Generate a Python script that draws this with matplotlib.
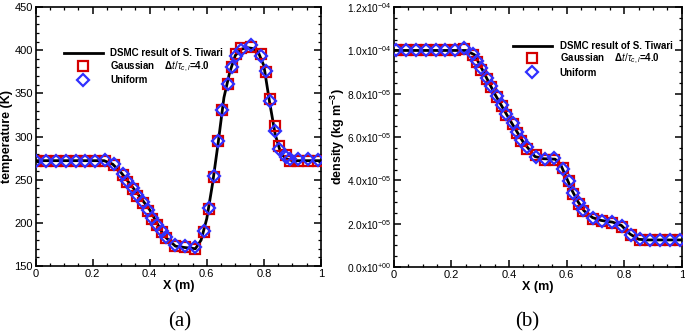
import matplotlib
matplotlib.use("Agg")
import matplotlib.pyplot as plt
from matplotlib.lines import Line2D
from matplotlib.ticker import MultipleLocator, FuncFormatter

plt.rcParams['font.family'] = ['Liberation Sans', 'DejaVu Sans']
plt.rcParams['mathtext.fontset'] = 'custom'
plt.rcParams['mathtext.rm'] = 'Liberation Sans'
plt.rcParams['mathtext.it'] = 'Liberation Sans:italic'
plt.rcParams['mathtext.bf'] = 'Liberation Sans:bold'

# temperature, DSMC reference line
t_line_x = [0.0, 0.24, 0.27, 0.30, 0.35, 0.40, 0.45, 0.49, 0.52, 0.56, 0.58,
            0.60, 0.62, 0.64, 0.66, 0.68, 0.70, 0.72, 0.74, 0.76, 0.78, 0.80,
            0.82, 0.84, 0.86, 0.88, 0.90, 1.0]
t_line_T = [272, 272, 268, 258, 237, 215, 185, 173, 171.5, 170, 180,
            205, 245, 293, 345, 374, 394, 401, 403, 402, 398, 382,
            340, 302, 280, 274, 272, 272]

# temperature, markers
t_x = [0.0, 0.035, 0.07, 0.105, 0.14, 0.174, 0.208, 0.242, 0.274, 0.307, 0.322,
       0.342, 0.357, 0.375, 0.393, 0.409, 0.425, 0.442, 0.457, 0.489, 0.523,
       0.558, 0.591, 0.607, 0.624, 0.640, 0.654, 0.673, 0.687, 0.704, 0.720,
       0.755, 0.789, 0.807, 0.820, 0.839, 0.854, 0.877, 0.891, 0.920, 0.953, 0.99]
t_uniform = [272, 272, 272, 272, 272, 272, 272, 273, 268, 256, 248,
             240, 232, 224, 215, 206, 198, 190.5, 183.5, 174.5, 173,
             172, 190, 217, 254, 295, 331, 361, 381, 393, 400,
             406, 393, 376, 341, 306, 286, 276, 273.5, 273.5, 273.5, 272.5]
t_gauss = [272, 272, 272, 272, 272, 272, 272, 272, 267, 255, 247,
           239, 231, 223, 214, 205, 197, 189.5, 182.5, 173.5, 172,
           170, 189, 216, 253, 295, 331, 361, 380, 396, 403,
           404, 396, 375, 343.5, 312, 289, 278.5, 271.5, 271.5, 271.5, 272]

# density (x1e-5), DSMC reference line
d_line_x = [0.0, 0.25, 0.28, 0.30, 0.35, 0.40, 0.45, 0.49, 0.52, 0.56, 0.58,
            0.60, 0.62, 0.64, 0.66, 0.69, 0.72, 0.76, 0.79, 0.82, 0.85, 0.88, 1.0]
d_line_d = [10.0, 10.0, 9.8, 9.3, 8.0, 6.85, 5.75, 5.1, 5.0, 4.98, 4.7,
            4.1, 3.5, 3.0, 2.6, 2.28, 2.15, 2.07, 1.92, 1.52, 1.28, 1.25, 1.25]

# density (x1e-5), markers
d_x = [0.007, 0.042, 0.076, 0.111, 0.145, 0.177, 0.212, 0.243, 0.275, 0.289,
       0.302, 0.322, 0.339, 0.357, 0.376, 0.391, 0.412, 0.426, 0.443, 0.461,
       0.493, 0.524, 0.556, 0.588, 0.609, 0.623, 0.643, 0.657, 0.690, 0.721,
       0.756, 0.791, 0.823, 0.854, 0.891, 0.924, 0.958, 0.993]
d_uniform = [10.0, 10.0, 10.0, 10.0, 10.0, 10.0, 10.0, 10.1, 9.83, 9.5,
             9.17, 8.74, 8.35, 7.89, 7.48, 7.05, 6.63, 6.24, 5.86, 5.52,
             5.09, 5.0, 5.05, 4.51, 3.97, 3.40, 2.94, 2.63, 2.25, 2.14,
             2.08, 1.89, 1.48, 1.28, 1.25, 1.25, 1.25, 1.25]
d_gauss = [10.0, 10.0, 10.0, 10.0, 10.0, 10.0, 10.0, 10.05, 9.8, 9.45,
           9.1, 8.7, 8.3, 7.85, 7.45, 7.0, 6.6, 6.2, 5.82, 5.45,
           5.15, 4.95, 4.92, 4.55, 3.95, 3.38, 2.92, 2.6, 2.22, 2.12,
           2.05, 1.87, 1.46, 1.26, 1.23, 1.23, 1.23, 1.23]

red = '#d40000'
blue = '#3030ff'
lbl_font = dict(fontsize=9, fontweight='bold')

fig = plt.figure(figsize=(6.85, 3.34), dpi=100)
ax1 = fig.add_axes([0.052, 0.2036, 0.4165, 0.7754])
ax2 = fig.add_axes([0.575, 0.2006, 0.4204, 0.778])


def style(ax):
    ax.set_xlim(0, 1)
    ax.xaxis.set_major_locator(MultipleLocator(0.2))
    ax.xaxis.set_minor_locator(MultipleLocator(0.05))
    ax.xaxis.set_major_formatter(FuncFormatter(lambda v, p: '%g' % round(v, 2)))
    ax.tick_params(which='both', direction='in', top=True, right=True,
                   labelsize=8, pad=2)
    ax.tick_params(which='major', length=5, width=1.1)
    ax.tick_params(which='minor', length=2.5, width=0.9)
    for s in ax.spines.values():
        s.set_linewidth(1.2)
    ax.set_xlabel('X (m)', labelpad=1, **lbl_font)


def draw(ax, lx, ly, mx, gy, uy):
    ax.plot(lx, ly, color='black', lw=2, zorder=2)
    ax.plot(mx, gy, ls='none', marker='s', ms=6.5, mfc='none', mec=red,
            mew=1.6, zorder=3)
    ax.plot(mx, uy, ls='none', marker='D', ms=6, mfc='none', mec=blue,
            mew=1.6, zorder=4)


def add_legend(ax, anchor):
    handles = [
        Line2D([], [], color='black', lw=2),
        Line2D([], [], ls='none', marker='s', ms=6.5, mfc='none', mec=red, mew=1.6),
        Line2D([], [], ls='none', marker='D', ms=6, mfc='none', mec=blue, mew=1.6),
    ]
    labels = ['DSMC result of S. Tiwari',
              r'Gaussian    $\mathbf{\Delta}\mathit{t/\tau_{c,l}}$=4.0',
              'Uniform']
    ax.legend(handles, labels, loc='upper left', bbox_to_anchor=anchor,
              frameon=False, prop=dict(size=7, weight='bold'),
              handlelength=4.0, handletextpad=0.8, labelspacing=0.12,
              borderaxespad=0)


# (a) temperature
draw(ax1, t_line_x, t_line_T, t_x, t_gauss, t_uniform)
style(ax1)
ax1.set_ylim(150, 450)
ax1.yaxis.set_major_locator(MultipleLocator(50))
ax1.yaxis.set_minor_locator(MultipleLocator(10))
ax1.set_ylabel('temperature (K)', **lbl_font)
ax1.yaxis.set_label_coords(-0.078, 0.5)
add_legend(ax1, (0.085, 0.855))

# (b) density
draw(ax2, d_line_x, d_line_d, d_x, d_gauss, d_uniform)
style(ax2)
ax2.set_ylim(0, 12)
ax2.yaxis.set_major_locator(MultipleLocator(2))
ax2.yaxis.set_minor_locator(MultipleLocator(0.5))


def dens_fmt(v, p):
    if abs(v) < 1e-9:
        return r'0.0x10$^{+00}$'
    if v >= 10 - 1e-9:
        return r'%.1fx10$^{-04}$' % (v / 10)
    return r'%.1fx10$^{-05}$' % v


ax2.yaxis.set_major_formatter(FuncFormatter(dens_fmt))
ax2.tick_params(axis='y', labelsize=7.3)
ax2.set_ylabel(r'density (kg m$^{\mathbf{-3}}$)', **lbl_font)
ax2.yaxis.set_label_coords(-0.163, 0.5)
add_legend(ax2, (0.40, 0.885))

fig.text(0.263, 0.036, '(a)', ha='center', va='center', fontsize=15,
         family=['Liberation Serif', 'DejaVu Serif'])
fig.text(0.769, 0.036, '(b)', ha='center', va='center', fontsize=15,
         family=['Liberation Serif', 'DejaVu Serif'])

fig.savefig('out.png', dpi=100)
